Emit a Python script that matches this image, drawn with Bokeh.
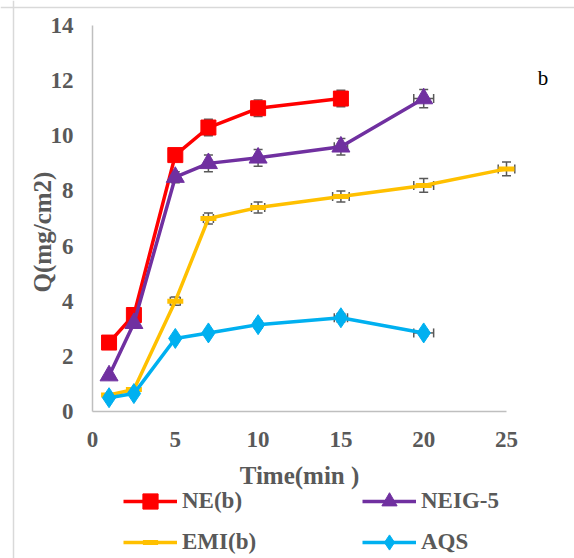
import math
from bokeh.plotting import figure
from bokeh.models import (Range1d, Legend, LegendItem, Label, Whisker, ColumnDataSource,
                          FixedTicker, TeeHead, LinearAxis, Span)
from bokeh.embed import file_html
from bokeh.resources import INLINE

# ---- data ----
time_ne = [1, 2.5, 5, 7, 10, 15]
q_ne = [2.5, 3.5, 9.3, 10.3, 11.0, 11.35]
yerr_ne = [0.0, 0.0, 0.2, 0.3, 0.3, 0.3]
xerr_ne = [0, 0, 0, 0, 0, 0]

time_neig = [1, 2.5, 5, 7, 10, 15, 20]
q_neig = [1.3, 3.2, 8.5, 9.0, 9.2, 9.6, 11.35]
yerr_neig = [0.0, 0.0, 0.2, 0.3, 0.3, 0.3, 0.33]
xerr_neig = [0, 0, 0, 0, 0, 0.4, 0.6]

time_emi = [1, 2.5, 5, 7, 10, 15, 20, 25]
q_emi = [0.6, 0.8, 4.0, 7.0, 7.4, 7.8, 8.2, 8.8]
yerr_emi = [0.0, 0.0, 0.15, 0.2, 0.2, 0.2, 0.25, 0.25]
xerr_emi = [0, 0, 0.3, 0.3, 0.4, 0.5, 0.6, 0.5]

time_aqs = [1, 2.5, 5, 7, 10, 15, 20]
q_aqs = [0.5, 0.65, 2.65, 2.85, 3.15, 3.4, 2.85]
yerr_aqs = [0.0, 0.0, 0.1, 0.1, 0.12, 0.15, 0.12]
xerr_aqs = [0, 0, 0, 0, 0.2, 0.4, 0.6]

series_names = ["NE(b)", "NEIG-5", "EMI(b)", "AQS"]
colors = ["#ff0000", "#7030a0", "#ffc000", "#00b0f0"]
x_ticks = [0, 5, 10, 15, 20, 25]
y_ticks = [0, 2, 4, 6, 8, 10, 12, 14]
x_title = "Time(min )"
y_title = "Q(mg/cm2)"
panel_label = "b"

FONT = "Liberation Serif"
GRAY = "#595959"

W, H = 574, 558
# pixel scale: x 16.56 px/unit (0 at px 92), y 27.57 px/unit (0 at px 411 from top)
XS, YS = 16.56, 27.57
x0_px, y0_px = 92, 411
p = figure(width=W, height=H, output_backend="svg", toolbar_location=None,
           x_range=Range1d(-x0_px / XS, (W - x0_px) / XS),
           y_range=Range1d(-(H - y0_px) / YS, y0_px / YS),
           x_axis_location=None, y_axis_location=None,
           min_border=0)
p.outline_line_color = None
p.grid.visible = False
p.background_fill_color = "white"
p.border_fill_color = "white"

xaxis = LinearAxis(fixed_location=0, bounds=(0, 25), ticker=FixedTicker(ticks=x_ticks))
yaxis = LinearAxis(fixed_location=0, bounds=(0, 14), ticker=FixedTicker(ticks=y_ticks))
for ax in (xaxis, yaxis):
    ax.axis_line_color = "#bfbfbf"
    ax.axis_line_width = 1.5
    ax.major_tick_line_color = None
    ax.minor_tick_line_color = None
    ax.major_tick_out = 0
    ax.major_tick_in = 0
    ax.major_label_text_font = FONT
    ax.major_label_text_font_style = "bold"
    ax.major_label_text_font_size = "23px"
    ax.major_label_text_color = GRAY
xaxis.major_label_standoff = 20
yaxis.major_label_standoff = 19
p.add_layout(xaxis, "below")
p.add_layout(yaxis, "left")

# chart border (light gray)
p.add_layout(Span(location=-79 / XS, dimension="height", line_color="#d9d9d9", line_width=1.5))
p.add_layout(Span(location=(y0_px - 7) / YS, dimension="width", line_color="#d9d9d9", line_width=1.5))

data = [
    (time_ne, q_ne, yerr_ne, xerr_ne, "square", 15),
    (time_neig, q_neig, yerr_neig, xerr_neig, "triangle", 18),
    (time_emi, q_emi, yerr_emi, xerr_emi, "dash", 16),
    (time_aqs, q_aqs, yerr_aqs, xerr_aqs, "diamond", 20),
]

items = []
for (xs, ys, ye, xe, marker, size), name, col in zip(data, series_names, colors):
    src = ColumnDataSource(dict(x=xs, y=ys,
                                ylo=[a - b for a, b in zip(ys, ye)],
                                yhi=[a + b for a, b in zip(ys, ye)],
                                xlo=[a - b for a, b in zip(xs, xe)],
                                xhi=[a + b for a, b in zip(xs, xe)]))
    lr = p.line("x", "y", source=src, line_color=col, line_width=3.5)
    if marker == "dash":
        mr = p.scatter("x", "y", source=src, marker="dash", size=size,
                       line_color=col, line_width=5)
    else:
        mr = p.scatter("x", "y", source=src, marker=marker, size=size,
                       fill_color=col, line_color=col)
    items.append(LegendItem(label=name, renderers=[lr, mr]))
    wy = Whisker(source=src, base="x", lower="ylo", upper="yhi", dimension="height",
                 line_color=GRAY, line_width=1.5,
                 upper_head=TeeHead(size=9, line_color=GRAY, line_width=1.5),
                 lower_head=TeeHead(size=9, line_color=GRAY, line_width=1.5))
    wx = Whisker(source=src, base="y", lower="xlo", upper="xhi", dimension="width",
                 line_color=GRAY, line_width=1.5,
                 upper_head=TeeHead(size=9, line_color=GRAY, line_width=1.5),
                 lower_head=TeeHead(size=9, line_color=GRAY, line_width=1.5))
    p.add_layout(wy)
    p.add_layout(wx)

# legend is filled column by column: put items so rows read NE(b) | NEIG-5, EMI(b) | AQS
legend_items = [items[0], items[2], items[1], items[3]]
legend = Legend(items=legend_items, ncols=2, location=(123, -3),
                glyph_width=54, glyph_height=38, label_height=38, label_width=177,
                label_standoff=5, spacing=3, padding=0, margin=0,
                border_line_color=None, background_fill_alpha=0,
                label_text_font=FONT, label_text_font_style="bold",
                label_text_font_size="23px", label_text_color=GRAY)
p.add_layout(legend, "center")

title_font = dict(text_font=FONT, text_font_style="bold", text_font_size="25px",
                  text_color=GRAY, text_align="center", text_baseline="middle")
p.add_layout(Label(x=12.5, y=-2.33, text=x_title, **title_font))
p.add_layout(Label(x=-3.02, y=6.51, text=y_title, angle=math.pi / 2, **title_font))

p.add_layout(Label(x=27.2, y=12.1, text=panel_label, text_font=FONT, text_font_size="21px",
                   text_color="black", text_align="center", text_baseline="middle"))

open("out.html", "w").write(file_html(p, INLINE))
